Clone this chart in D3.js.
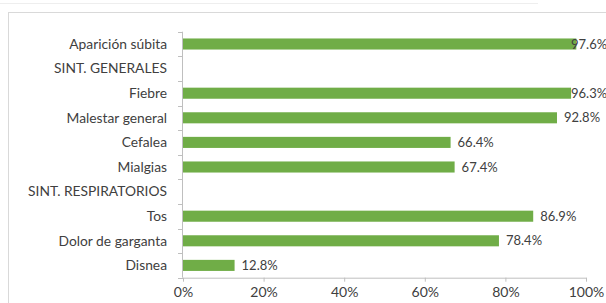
<!DOCTYPE html>
<html><head><meta charset="utf-8">
<script src="https://cdn.jsdelivr.net/npm/d3@7"></script>
<style>html,body{margin:0;padding:0;background:#fff;}svg{display:block;}</style>
</head><body>
<script>
const categories = ["Aparición súbita","SINT. GENERALES","Fiebre","Malestar general","Cefalea","Mialgias","SINT. RESPIRATORIOS","Tos","Dolor de garganta","Disnea"];
const values = [97.6, null, 96.3, 92.8, 66.4, 67.4, null, 86.9, 78.4, 12.8];
const tickValues = [0, 20, 40, 60, 80, 100];

const W = 606, H = 303;
const svg = d3.select("body").append("svg").attr("width", W).attr("height", H);
const font = "Lato, 'Open Sans', sans-serif";

// faint line above chart
svg.append("line").attr("x1",0).attr("x2",538).attr("y1",3.5).attr("y2",3.5).attr("stroke","#eeeeee");
// chart border
svg.append("rect").attr("x",8.5).attr("y",12.5).attr("width",620).attr("height",320)
  .attr("fill","none").attr("stroke","#d9d9d9");

const x = d3.scaleLinear().domain([0,100]).range([183,586]);
const y = d3.scaleBand().domain(categories).range([31.7,277.7]).paddingInner(0.55).paddingOuter(0.275);

const axisColor = "#bfbfbf";
// x axis
const gx = svg.append("g").attr("transform","translate(0,277.7)")
  .call(d3.axisBottom(x).tickValues(tickValues).tickFormat(d=>d+"%").tickSizeInner(4).tickSizeOuter(0).tickPadding(5));
gx.select(".domain").attr("stroke",axisColor);
gx.selectAll(".tick line").attr("stroke",axisColor);
gx.selectAll(".tick text").attr("fill","#404040").style("font-family",font).style("font-size","14px");

// y axis line with ticks at band boundaries
const yTop = 31.7, yBot = 277.7, step = (yBot - yTop)/categories.length;
svg.append("line").attr("x1",182.5).attr("x2",182.5).attr("y1",yTop).attr("y2",yBot).attr("stroke",axisColor);
d3.range(categories.length+1).forEach(i=>{
  const yy = Math.round(yTop + i*step) + 0.5;
  svg.append("line").attr("x1",178).attr("x2",183).attr("y1",yy).attr("y2",yy).attr("stroke",axisColor);
});

// category labels
svg.append("g").selectAll("text").data(categories).join("text")
  .attr("x",167).attr("y",d=>y(d)+y.bandwidth()/2).attr("dy","0.35em")
  .attr("text-anchor","end").attr("fill","#404040")
  .style("font-family",font).style("font-size","13.8px").text(d=>d);

const data = categories.map((c,i)=>({c, v: values[i]})).filter(d=>d.v!=null);
svg.append("g").selectAll("rect").data(data).join("rect")
  .attr("x",x(0)).attr("y",d=>y(d.c)).attr("width",d=>x(d.v)-x(0)).attr("height",y.bandwidth())
  .attr("fill","#70ad47");

svg.append("g").selectAll("text").data(data).join("text")
  .attr("x",d=>Math.min(x(d.v)+7, 571)).attr("y",d=>y(d.c)+y.bandwidth()/2).attr("dy","0.35em")
  .attr("fill","#404040").style("font-family",font).style("font-size","13px")
  .text(d=>d.v.toFixed(1)+"%");
</script>
</body></html>
